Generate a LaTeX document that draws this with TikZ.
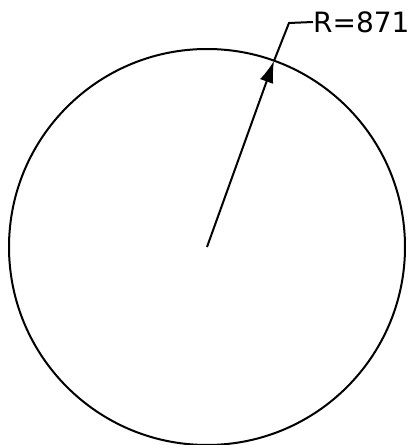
\documentclass[tikz,border=0pt]{standalone}
\usepackage{fontspec}
\newfontfamily\dimfont{DejaVu Sans}
\usepackage{tikz}
\usetikzlibrary{arrows.meta,calc}

\begin{document}
\begin{tikzpicture}[x=1pt,y=1pt, rim/.style={draw,line width=2pt}, radarr/.style={-{Latex[length=22pt,width=14pt]},line width=2pt}, lead/.style={line width=2pt}, dimtext/.style={font=\dimfont\fontsize{28}{34}\selectfont,inner sep=0pt,anchor=west}]
\useasboundingbox (0,0) rectangle (412,445);
\coordinate (ctr) at (207,198);
\draw[rim] (ctr) circle[radius=198];
\coordinate (tip) at ($(ctr)+(70.2:198)$);
\coordinate (knee) at (289,422);
\node[dimtext] (lbl) at (313,423) {R=871};
\draw[radarr] (ctr)--(tip);
\draw[lead] (tip)--(knee)--(lbl.west);
\end{tikzpicture}
\end{document}
